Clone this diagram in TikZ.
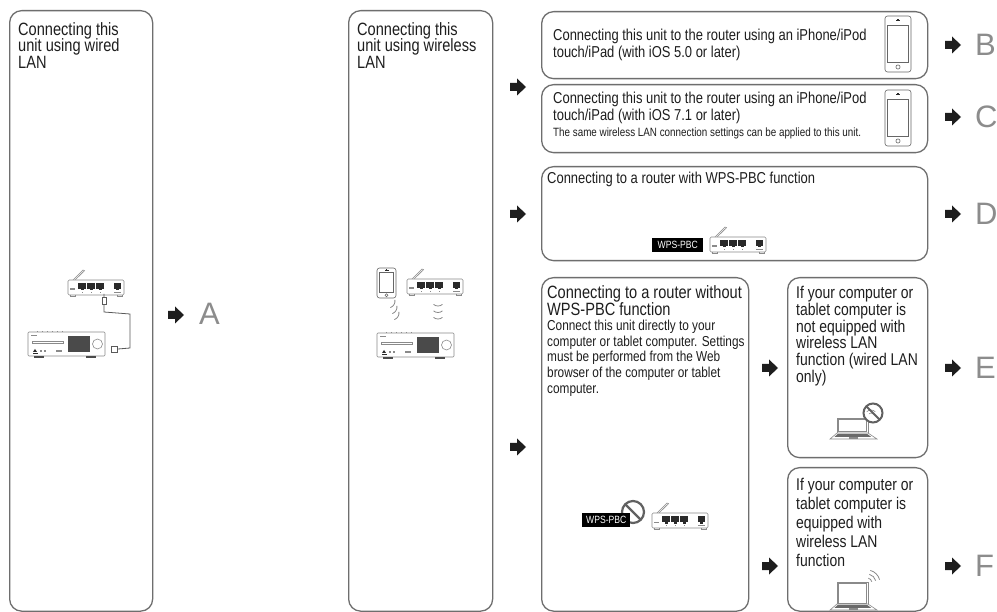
\documentclass[tikz,border=0pt]{standalone}
\usepackage{fontspec}
\setmainfont{Liberation Sans}[FakeStretch=0.82]
\newfontfamily\letterfont{Liberation Sans}
\usetikzlibrary{calc}

\definecolor{frame}{HTML}{6E6E6E}
\definecolor{ink}{HTML}{1E1E1E}
\definecolor{lettergray}{HTML}{8C8C8C}
\definecolor{devgray}{HTML}{8A8A8A}
\definecolor{portblack}{HTML}{2A2A2A}
\definecolor{screenfill}{HTML}{4A4A4A}
\definecolor{keyfill}{HTML}{6A6A6A}

\tikzset{
  panel/.style={draw=frame, line width=1.3pt, rounded corners=12pt, inner sep=0pt,
    anchor=north west, fill=white},
  txt/.style={anchor=north west, inner sep=0pt, align=left, text=ink},
  headtxt/.style={txt, font=\fontsize{17.8}{16.8}\selectfont},
  bigtxt/.style={txt, font=\fontsize{17}{16.8}\selectfont},
  midtxt/.style={txt, font=\fontsize{15.8}{17.5}\selectfont},
  smalltxt/.style={txt, font=\fontsize{14.4}{15.6}\selectfont},
  tinytxt/.style={txt, font=\fontsize{12}{13}\selectfont},
  letter/.style={anchor=west, inner sep=0pt, text=lettergray,
    font=\letterfont\fontsize{31}{31}\selectfont},
  wpslabel/.style={fill=black, text=white, inner ysep=0pt, minimum height=14pt,
    anchor=west, font=\fontsize{10.5}{10}\selectfont},
  devline/.style={draw=devgray, line width=0.6pt},
  nosign/.style={draw=black!62, line width=2.2pt},
  pics/go/.style={code={
    \fill[ink] (0,-4) -- (7,-4) -- (7,-8.5) -- (16,0) -- (7,8.5) -- (7,4) -- (0,4) -- cycle;
  }},
  % small network router, origin at the top-left corner of its body
  pics/router/.style={code={
    \draw[devline] (5,0) -- (15,-10) -- (16.5,-9.3) -- (7,0);
    \draw[devline, rounded corners=1.2pt, fill=white] (0,0) rectangle (56,15);
    \draw[devline] (2,15) -- (2,16.5) -- (7,16.5) -- (7,15);
    \draw[devline] (49,15) -- (49,16.5) -- (54,16.5) -- (54,15);
    \foreach \px in {10,19,28}{
      \fill[portblack] (\px,3) rectangle ++(8,6);
      \fill[portblack] ({\px+2.5},9) rectangle ++(3,1.5);
      \fill[devgray] ({\px+3.5},12) rectangle ++(1,1);
    }
    \fill[portblack] (46,3) rectangle ++(7,6);
    \fill[portblack] (48,9) rectangle ++(3,1.5);
    \fill[devgray] (46,12) rectangle ++(7,1);
    \fill[devgray] (2,8.5) rectangle ++(5,1.2);
  }},
  % the audio unit, origin at its top-left corner
  pics/avunit/.style={code={
    \draw[devline, fill=white, rounded corners=1pt] (0,0) rectangle (77,24);
    \foreach \bx in {9,14,...,34} \draw[devline] (\bx,0) -- ++(0,-1.3);
    \fill[devgray] (3,3) rectangle ++(6,1.2);
    \draw[devline] (4,9) rectangle (35,11);
    \fill[portblack] (5,20) -- (7,17) -- (9,20) -- cycle;
    \fill[portblack] (4.5,20.6) rectangle (9.5,21.3);
    \fill[devgray] (12,18) rectangle ++(2,2);
    \fill[devgray] (16,18) rectangle ++(2,2);
    \fill[devgray] (28,18.5) rectangle ++(6,1.4);
    \fill[screenfill] (40,4) rectangle (62,20);
    \draw[devline] (69.5,12) circle (5);
    \fill[portblack!85] (6,24) rectangle (16,26);
    \fill[portblack!85] (58,24) rectangle (68,26);
  }},
  % handheld device of width #1 and height #2
  pics/phone/.style 2 args={code={
    \draw[devline, draw=black!60, rounded corners=2.5pt, fill=white] (0,0) rectangle (#1,#2);
    \draw[devline, draw=black!60] (2.5,{0.16*#2}) rectangle ({#1-2.5},{0.82*#2});
    \fill[portblack] ({#1/2-2},{0.08*#2}) rectangle ++(4,0.8);
    \fill[portblack] ({#1/2-0.6},{0.08*#2-1.5}) rectangle ++(1.2,1.5);
    \draw[devline, draw=black!60] ({#1/2},{0.91*#2}) circle ({0.08*#1});
  }},
  % notebook computer with screen height #1, origin at the bottom-left of its base
  pics/laptop/.style={code={
    \draw[devline, fill=white] (7,{-6-#1}) rectangle (38,-6);
    \draw[devline] (8.5,{-4.5-#1}) rectangle (36.5,-7.2);
    \draw[devline, fill=white] (7,-6) -- (38,-6) -- (47,0) -- (0,0) -- cycle;
    \fill[keyfill] (8,-5.2) -- (37,-5.2) -- (41,-2.2) -- (4.5,-2.2) -- cycle;
    \draw[devline] (19,-1.6) rectangle (27,-0.3);
  }},
}

\begin{document}
\begin{tikzpicture}[x=1pt, y=-1pt]
\useasboundingbox (0,0) rectangle (997,612);
\fill[white] (0,0) rectangle (997,612);

% ---- panels ----
\node[panel, minimum width=143pt, minimum height=600.5pt] (wired) at (9,10) {};
\node[panel, minimum width=144pt, minimum height=600.5pt] (wireless) at (348,10) {};
\node[panel, minimum width=386pt, minimum height=67pt] (ios5) at (541,11) {};
\node[panel, minimum width=386pt, minimum height=68pt] (ios7) at (541,84) {};
\node[panel, minimum width=386pt, minimum height=94pt] (wps) at (541,166) {};
\node[panel, minimum width=207pt, minimum height=333.5pt] (nowps) at (541,277) {};
\node[panel, minimum width=140pt, minimum height=180pt] (wiredpc) at (787,277) {};
\node[panel, minimum width=140pt, minimum height=143.5pt] (wifipc) at (787,467) {};

% ---- texts ----
\node[headtxt] (t-wired) at (18,22) {Connecting this\\unit using wired\\LAN};
\node[headtxt] (t-wireless) at (357,22) {Connecting this\\unit using wireless\\LAN};
\node[midtxt] (t-ios5) at (553,28.5) {Connecting this unit to the router using an iPhone/iPod\\touch/iPad (with iOS 5.0 or later)};
\node[midtxt] (t-ios7) at (553,91.5) {Connecting this unit to the router using an iPhone/iPod\\touch/iPad (with iOS 7.1 or later)};
\node[tinytxt] (t-ios7b) at (553,128) {The same wireless LAN connection settings can be applied to this unit.};
\node[midtxt] (t-wps) at (547,172) {Connecting to a router with WPS-PBC function};
\node[headtxt] (t-nowps) at (547,285.5) {Connecting to a router without\\WPS-PBC function};
\node[smalltxt] (t-nowpsb) at (547,320) {Connect this unit directly to your\\computer or tablet computer. Settings\\must be performed from the Web\\browser of the computer or tablet\\computer.};
\node[bigtxt] (t-wiredpc) at (796,286) {If your computer or\\tablet computer is\\not equipped with\\wireless LAN\\function (wired LAN\\only)};
\node[bigtxt, font=\fontsize{17}{19}\selectfont] (t-wifipc) at (796,478) {If your computer or\\tablet computer is\\equipped with\\wireless LAN\\function};

% ---- wired connection sketch ----
\pic at (68,280) {router};
\pic at (28,332) {avunit};
\draw[devline, draw=black!65, line width=0.8pt] (104,294) -- (104,312) -- (130,314) -- (130,348) -- (118,349);
\draw[devline, draw=black!65, fill=white] (102,297) rectangle (106.5,304);
\draw[devline, draw=black!65, fill=white] (111,346) rectangle (117.5,352);

% ---- wireless connection sketch ----
\pic at (377,268) {phone={19}{30}};
\pic at (407,279) {router};
\pic at (377,333) {avunit};
\foreach \k in {0,1,2}
  \draw[devline, line width=0.8pt] ({388+2*\k},{301+6*\k}) ++(-10:7) arc[start angle=-10, end angle=70, radius=7];
\foreach \k in {0,1,2}
  \draw[devline, line width=0.8pt] (438,{299+6.5*\k}) ++(50:7) arc[start angle=50, end angle=130, radius=7];

% ---- handheld icons ----
\pic at (885,16) {phone={26}{56}};
\pic at (885,90) {phone={26}{56}};

% ---- WPS-PBC router ----
\node[wpslabel, inner xsep=5.5pt] (wpsbtn) at (652,245) {WPS-PBC};
\pic at (710,237) {router};

% ---- router without WPS-PBC ----
\draw[nosign] (633,512) circle (11);
\draw[nosign] (633,512) ++(225:11) -- ++(45:22);
\node[wpslabel, inner xsep=4pt] (nowpsbtn) at (582,520) {WPS-PBC};
\pic at (652,513) {router};

% ---- wired-only computer ----
\pic at (830,439) {laptop=15};
\fill[white] (873,413) circle (10);
\foreach \r in {3,6} \draw[devgray, line width=0.6pt] (871,416) ++(-135:\r) arc[start angle=-135, end angle=-45, radius=\r];
\draw[nosign, line width=2pt] (873,413) circle (9.5);
\draw[nosign, line width=2pt] (873,413) ++(225:9.5) -- ++(45:19);

% ---- wireless computer ----
\pic at (830,610) {laptop=22};
\foreach \r in {5,9,13} \draw[devgray, line width=0.8pt] (867,583) ++(-75:\r) arc[start angle=-75, end angle=-15, radius=\r];

% ---- arrows and result letters ----
\pic at (168,315) {go};
\node[letter] (la) at (199,314) {A};

\pic at (510,87) {go};
\pic at (510,214) {go};
\pic at (510,447) {go};
\pic at (762,368) {go};
\pic at (762,566) {go};

\pic at (945,45) {go};
\pic at (945,117) {go};
\pic at (945,214) {go};
\pic at (945,368) {go};
\pic at (945,566) {go};
\node[letter] (lb) at (975,45) {B};
\node[letter] (lc) at (975,117) {C};
\node[letter] (ld) at (975,214) {D};
\node[letter] (le) at (975,368) {E};
\node[letter] (lf) at (975,566) {F};
\end{tikzpicture}
\end{document}
